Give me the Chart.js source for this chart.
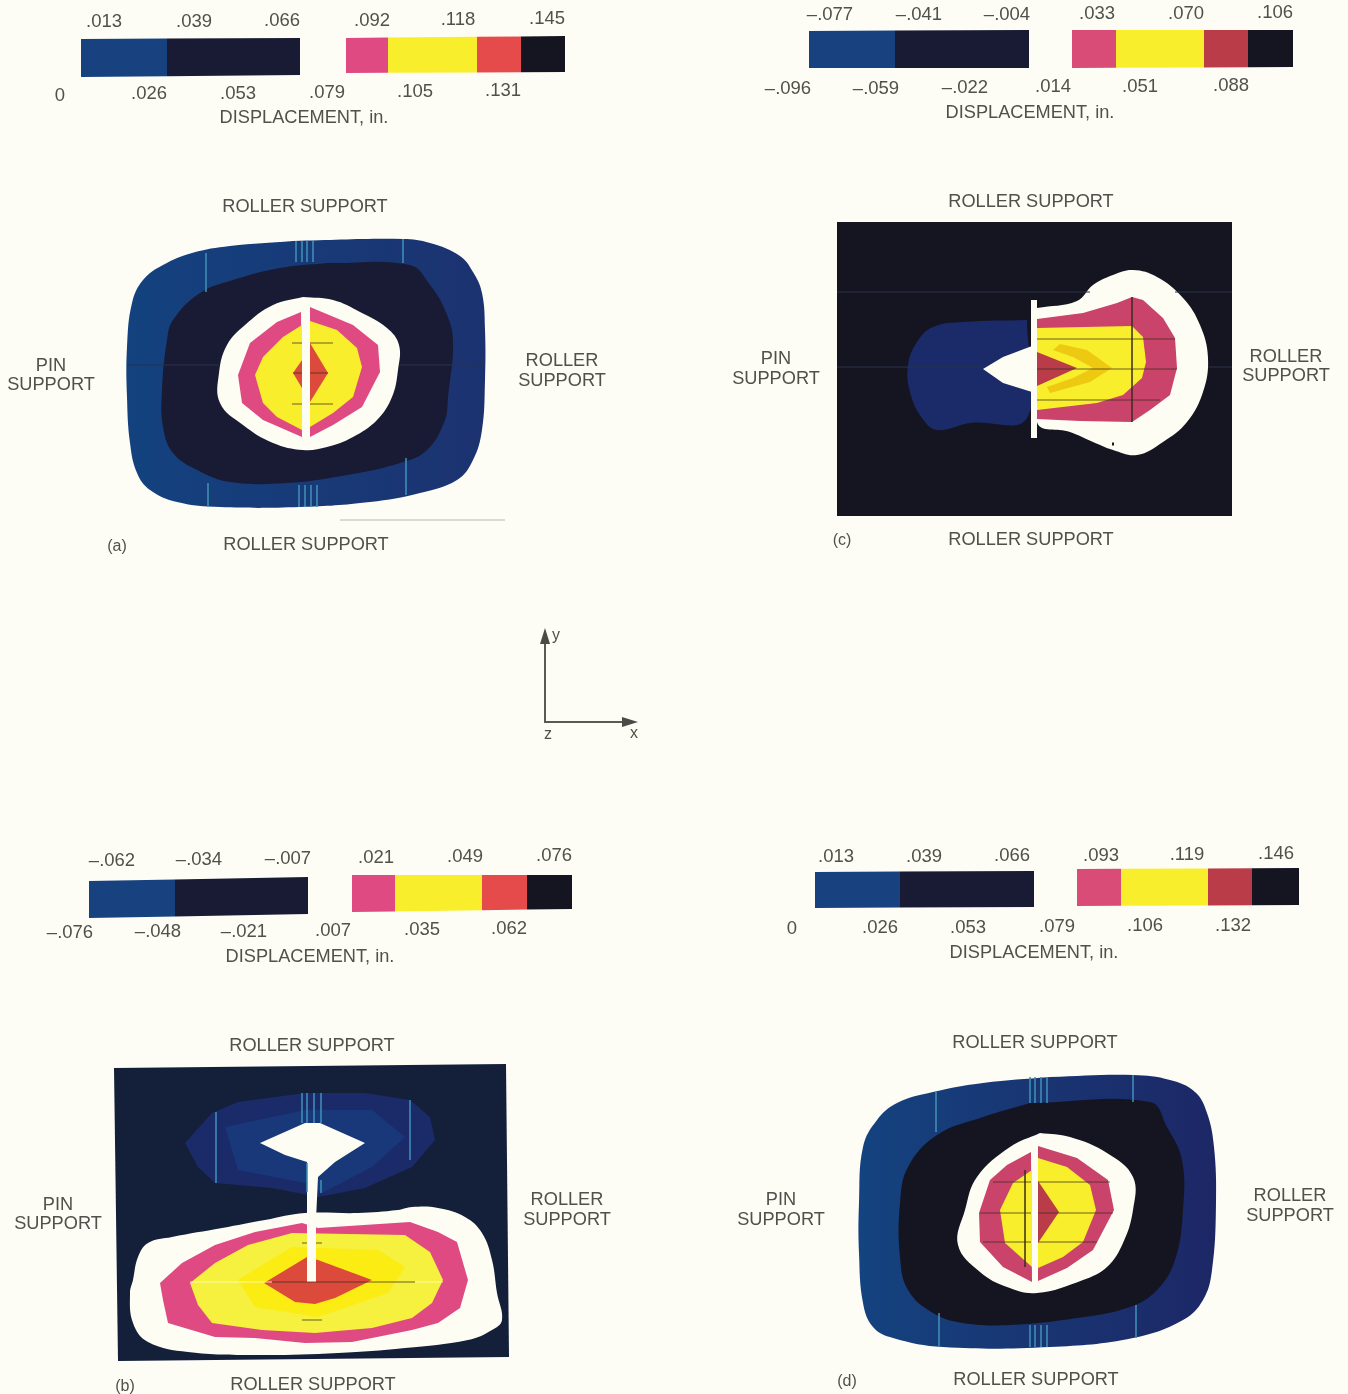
<!DOCTYPE html>
<html>
<head>
<meta charset="utf-8">
<title>Displacement contours</title>
<script src="https://cdn.jsdelivr.net/npm/chart.js@4"></script>
<style>
  html, body { margin: 0; padding: 0; background: #fdfdf6; overflow: hidden; }
  canvas { display: block; filter: blur(0.5px); }
</style>
</head>
<body>
<canvas id="contourChart" width="1348" height="1394"></canvas>
<script>
// panel (a) contours
const aOuter = [[293,241],[403,239],[430,243],[460,256],[473,272],[482,293],[485,330],[485,380],[482,430],[473,460],[457,480],[420,493],[370,502],[300,507],[220,507],[177,502],[150,490],[137,473],[130,443],[127,397],[127,347],[132,303],[143,280],[163,265],[192,253],[230,246]];
const aDark = [[327,263],[410,265],[430,285],[445,310],[453,340],[448,397],[445,420],[427,450],[400,463],[347,475],[287,483],[230,482],[197,470],[173,453],[163,427],[162,390],[167,340],[173,320],[200,293],[233,280],[280,268]];
const aWhite = [[303,297],[333,300],[360,312],[387,328],[399,345],[398,370],[392,397],[377,420],[353,437],[327,447],[303,450],[273,443],[243,425],[220,403],[219,373],[227,345],[245,325],[273,305]];
const aPinkL = [[301,312],[277,322],[250,343],[238,375],[242,403],[263,420],[302,437]];
const aYellowL = [[302,325],[283,337],[263,357],[255,375],[263,403],[277,417],[302,430]];
const aPinkR = [[310,307],[353,325],[378,345],[380,372],[362,407],[333,425],[310,437]];
const aYellowR = [[310,321],[337,330],[357,348],[362,367],[353,397],[333,413],[310,427]];
const aRedL = [[302,360],[293,373],[302,388]];
const aRedR = [[310,343],[328,373],[310,402]];

// panel (c)
const cField = [[837,222],[1232,222],[1232,516],[837,516]];
const cBlue = [[1027,320],[963,322],[933,327],[917,342],[908,365],[910,392],[922,418],[937,430],[970,423],[1027,418]];
const cWhite = [[1037,308],[1077,301],[1093,285],[1113,275],[1133,270],[1157,277],[1183,298],[1200,325],[1208,358],[1203,392],[1187,422],[1163,442],[1137,455],[1113,450],[1093,442],[1070,432],[1037,422]];
const cTip = [[1032,346],[1003,357],[983,369],[1003,383],[1032,392]];
const cSlit = [[1031,300],[1037,300],[1037,438],[1031,438]];
const cPink = [[1037,319],[1083,313],[1117,303],[1132,297],[1143,300],[1163,318],[1175,338],[1177,368],[1170,395],[1150,410],[1132,422],[1080,421],[1037,419]];
const cYellow = [[1037,328],[1132,326],[1143,337],[1146,362],[1142,378],[1123,395],[1097,403],[1037,410]];
const cAmber = [[1060,344],[1087,350],[1112,368],[1090,382],[1050,393],[1047,387],[1073,378],[1093,368],[1073,357],[1053,350]];
const cRed = [[1037,352],[1077,368],[1037,386]];

// panel (b)
const bField = [[114,1068],[506,1064],[509,1357],[118,1361]];
const bBlue = [[185,1143],[212,1113],[238,1102],[305,1093],[365,1093],[410,1100],[430,1117],[435,1140],[412,1167],[365,1188],[318,1197],[272,1188],[215,1183],[198,1167]];
const bBlueIn = [[225,1127],[305,1110],[372,1110],[405,1137],[372,1167],[322,1193],[305,1183],[238,1170]];
const bDiamond = [[260,1143],[305,1123],[320,1123],[365,1143],[335,1162],[318,1177],[316,1220],[307,1220],[307,1162],[285,1155]];
const bSlit = [[307,1170],[316,1170],[316,1282],[307,1282]];
const bWhite = [[133,1280],[138,1257],[148,1243],[172,1237],[222,1228],[265,1220],[305,1213],[358,1213],[398,1210],[412,1207],[438,1208],[465,1217],[482,1233],[492,1260],[497,1293],[502,1320],[492,1330],[468,1340],[405,1348],[338,1353],[255,1355],[188,1352],[148,1342],[133,1323],[130,1293]];
const bPink = [[160,1283],[182,1263],[215,1245],[255,1232],[302,1223],[318,1228],[410,1222],[438,1232],[457,1242],[468,1280],[460,1308],[438,1323],[412,1330],[352,1342],[305,1343],[255,1338],[215,1337],[168,1323],[163,1300]];
const bYellow = [[190,1283],[215,1263],[248,1245],[292,1233],[405,1235],[430,1252],[443,1280],[432,1303],[412,1318],[372,1328],[315,1333],[262,1330],[212,1323],[198,1305]];
const bYellowIn = [[238,1280],[292,1247],[378,1250],[405,1267],[388,1293],[318,1317],[255,1307]];
const bRed = [[264,1283],[307,1257],[318,1260],[372,1280],[335,1298],[315,1304],[295,1302]];

// panel (d)
const dOuter = [[1050,1077],[1133,1075],[1170,1080],[1195,1092],[1207,1113],[1214,1147],[1216,1203],[1212,1270],[1203,1300],[1183,1320],[1133,1338],[1050,1347],[943,1347],[893,1338],[873,1327],[863,1303],[859,1253],[859,1203],[863,1147],[877,1120],[897,1103],[933,1092],[983,1083]];
const dDark = [[1030,1103],[1150,1102],[1167,1127],[1182,1160],[1183,1210],[1175,1260],[1157,1290],[1130,1307],[1077,1318],[1010,1325],[963,1323],[933,1313],[908,1290],[900,1257],[900,1203],[908,1167],[937,1135],[983,1117]];
const dWhite = [[1040,1133],[1070,1137],[1107,1153],[1133,1177],[1133,1210],[1123,1243],[1107,1267],[1083,1280],[1037,1293],[1007,1287],[980,1272],[958,1245],[965,1210],[977,1177],[1010,1147]];
const dPinkL = [[1031,1152],[1007,1165],[990,1180],[979,1213],[980,1242],[1003,1267],[1032,1282]];
const dYellowL = [[1032,1170],[1013,1183],[1000,1210],[1005,1243],[1032,1267]];
const dPinkR = [[1038,1146],[1077,1158],[1108,1180],[1114,1210],[1093,1250],[1067,1268],[1038,1281]];
const dYellowR = [[1038,1158],[1067,1167],[1090,1185],[1096,1210],[1083,1242],[1063,1257],[1038,1268]];
const dRedR = [[1038,1181],[1059,1212],[1038,1243]];

// colour key edges, then top and bottom of each bar at its two ends
const keyALeft = [81,167,300], keyARight = [346,388,477,521,565];
const keyCLeft = [809,895,1029], keyCRight = [1072,1116,1204,1248,1293];
const keyBLeft = [89,175,308], keyBRight = [352,395,482,527,572];
const keyDLeft = [815,900,1034], keyDRight = [1077,1121,1208,1252,1299];
const keyAY = [[39,77],[38,75],[38,73],[36,72]];
const keyCY = [[31,68],[30,68],[30,68],[30,67]];
const keyBY = [[881,918],[877,914],[875,912],[875,909]];
const keyDY = [[872,908],[871,907],[869,906],[868,905]];

// thin mesh lines left in the plots, [x1,y1,x2,y2]
const meshCyan = [
  [206,253,206,292],[296,241,296,262],[302,241,302,262],[307,241,307,262],[313,241,313,262],[403,239,403,263],
  [208,483,208,507],[299,485,299,507],[305,485,305,507],[311,485,311,507],[317,485,317,507],[406,458,406,495],
  [216,1112,216,1183],[302,1093,302,1123],[307,1093,307,1123],[314,1093,314,1123],[321,1093,321,1123],[410,1100,410,1160],
  [307,1163,307,1192],[321,1180,321,1193],
  [936,1092,936,1132],[1030,1077,1030,1103],[1035,1077,1035,1103],[1041,1077,1041,1103],[1047,1077,1047,1103],[1133,1075,1133,1102],
  [939,1313,939,1346],[1030,1325,1030,1347],[1035,1325,1035,1347],[1041,1325,1041,1347],[1047,1325,1047,1347],[1136,1305,1136,1338]
];
const meshDark = [
  [292,343,302,343],[310,343,333,343],[293,373,302,373],[310,373,328,373],[292,404,302,404],[310,404,333,404],
  [1037,339,1175,339],[1037,369,1177,369],[1037,400,1160,400],[1132,297,1132,422],
  [272,1282,415,1282],[302,1243,307,1243],[316,1243,322,1243],[302,1320,322,1320],
  [993,1182,1031,1182],[1038,1182,1110,1182],[980,1213,1031,1213],[1038,1213,1113,1213],[983,1242,1031,1242],[1038,1242,1097,1242],[1025,1170,1025,1267]
];
const meshFaint = [[127,365,219,365],[399,365,485,365],[837,292,1090,292],[1175,292,1232,292],[837,367,983,367],[1208,367,1232,367]];
const meshPale = [[190,1282,272,1282],[415,1282,443,1282]];
const scanMark = [[340,520,505,520]];
const speck = [[1112,444,1114,444]];

// text, [string, x, y]
const tickLabels = [
  [".013",104,21],[".039",194,21],[".066",282,20],[".092",372,20],[".118",458,19],[".145",547,18],
  ["0",60,95],[".026",149,93],[".053",238,93],[".079",327,92],[".105",415,91],[".131",503,90],
  ["\u2013.077",830,14],["\u2013.041",919,14],["\u2013.004",1007,14],[".033",1097,13],[".070",1186,13],[".106",1275,12],
  ["\u2013.096",788,88],["\u2013.059",876,88],["\u2013.022",965,87],[".014",1053,86],[".051",1140,86],[".088",1231,85],
  ["\u2013.062",112,860],["\u2013.034",199,859],["\u2013.007",288,858],[".021",376,857],[".049",465,856],[".076",554,855],
  ["\u2013.076",70,932],["\u2013.048",158,931],["\u2013.021",244,931],[".007",333,930],[".035",422,929],[".062",509,928],
  [".013",836,856],[".039",924,856],[".066",1012,855],[".093",1101,855],[".119",1187,854],[".146",1276,853],
  ["0",792,928],[".026",880,927],[".053",968,927],[".079",1057,926],[".106",1145,925],[".132",1233,925]
];
const captionLabels = [
  ["DISPLACEMENT, in.",304,117],["DISPLACEMENT, in.",1030,112],["DISPLACEMENT, in.",310,956],["DISPLACEMENT, in.",1034,952],
  ["ROLLER SUPPORT",305,206],["ROLLER SUPPORT",306,544],["ROLLER SUPPORT",1031,201],["ROLLER SUPPORT",1031,539],
  ["ROLLER SUPPORT",312,1045],["ROLLER SUPPORT",313,1384],["ROLLER SUPPORT",1035,1042],["ROLLER SUPPORT",1036,1379],
  ["PIN",51,365],["SUPPORT",51,384],["ROLLER",562,360],["SUPPORT",562,380],
  ["PIN",776,358],["SUPPORT",776,378],["ROLLER",1286,356],["SUPPORT",1286,375],
  ["PIN",58,1204],["SUPPORT",58,1223],["ROLLER",567,1199],["SUPPORT",567,1219],
  ["PIN",781,1199],["SUPPORT",781,1219],["ROLLER",1290,1195],["SUPPORT",1290,1215]
];
const panelLabels = [["(a)",117,546],["(c)",842,540],["(b)",125,1386],["(d)",847,1381]];
const axisLabels = [["y",556,635],["z",548,734],["x",634,733]];

// little xyz triad
const triadLine = [[545,640],[545,722],[630,722]];
const triadUp = [[545,628],[540,644],[550,644]];
const triadRight = [[638,722],[622,717],[622,727]];

const colors = {
  blue: "#17427f",
  navy: "#1b2a68",
  dark: "#181b33",
  black: "#151522",
  white: "#fdfdf4",
  pink: "#df4a82",
  rose: "#c9436a",
  yellow: "#f8ee2c",
  amber: "#edc912",
  red: "#dc4a3c",
  brick: "#b93c48",
  cyan: "#3f8fb5",
};

const canvas = document.getElementById("contourChart");
const datasets = [];

function sideFade(x1, x2, from, to) {
  const g = canvas.getContext("2d").createLinearGradient(x1, 0, x2, 0);
  g.addColorStop(0, from);
  g.addColorStop(1, to);
  return g;
}

function shape(points, color, smooth) {
  datasets.push({
    data: points.concat([points[0]]).map((p) => ({ x: p[0], y: p[1] })),
    showLine: true,
    fill: "shape",
    backgroundColor: color,
    borderColor: color,
    borderWidth: 0,
    pointRadius: 0,
    tension: smooth ? 0.4 : 0,
  });
}

function strokes(list, color, width) {
  list.forEach((s) => {
    datasets.push({
      data: [{ x: s[0], y: s[1] }, { x: s[2], y: s[3] }],
      showLine: true,
      fill: false,
      borderColor: color,
      borderWidth: width,
      pointRadius: 0,
    });
  });
}

function key(edges, ys, keyColors) {
  // ys gives top/bottom at each end of the whole bar
  const x0 = edges[0];
  const span = ys.span;
  for (let i = 0; i < edges.length - 1; i++) {
    const t1 = (edges[i] - x0) / span;
    const t2 = (edges[i + 1] - x0) / span;
    const top = (t) => ys.a[0] + (ys.b[0] - ys.a[0]) * t;
    const bot = (t) => ys.a[1] + (ys.b[1] - ys.a[1]) * t;
    shape([[edges[i], top(t1)], [edges[i + 1], top(t2)], [edges[i + 1], bot(t2)], [edges[i], bot(t1)]], keyColors[i]);
  }
}

function keyPair(left, right, y, warm) {
  key(left, { a: y[0], b: y[1], span: left[left.length - 1] - left[0] }, [colors.blue, colors.dark]);
  key(right, { a: y[2], b: y[3], span: right[right.length - 1] - right[0] }, warm);
}

keyPair(keyALeft, keyARight, keyAY, [colors.pink, colors.yellow, "#e64b4c", colors.black]);
keyPair(keyCLeft, keyCRight, keyCY, ["#d94c78", colors.yellow, colors.brick, colors.black]);
keyPair(keyBLeft, keyBRight, keyBY, [colors.pink, colors.yellow, "#e64b4c", colors.black]);
keyPair(keyDLeft, keyDRight, keyDY, ["#d94c78", colors.yellow, colors.brick, colors.black]);

// (a)
shape(aOuter, sideFade(127, 485, "#13427f", "#1c3270"), true);
shape(aDark, colors.dark, true);
shape(aWhite, colors.white, true);
shape(aPinkL, colors.pink);
shape(aYellowL, colors.yellow);
shape(aPinkR, colors.pink);
shape(aYellowR, colors.yellow);
shape(aRedL, colors.red);
shape(aRedR, colors.red);

// (c)
shape(cField, colors.black);
shape(cBlue, colors.navy, true);
shape(cWhite, colors.white, true);
shape(cTip, colors.white);
shape(cSlit, colors.white);
shape(cPink, colors.rose);
shape(cYellow, colors.yellow);
shape(cAmber, colors.amber);
shape(cRed, colors.brick);

// (b)
shape(bField, "#14203a");
shape(bBlue, colors.navy);
shape(bBlueIn, "#18387a");
shape(bDiamond, colors.white);
shape(bWhite, colors.white, true);
shape(bPink, colors.pink);
shape(bYellow, "#f6f03e");
shape(bYellowIn, "#fbec14");
shape(bRed, colors.red);
shape(bSlit, colors.white);

// (d)
shape(dOuter, sideFade(859, 1216, "#14437f", "#1d2766"), true);
shape(dDark, colors.black, true);
shape(dWhite, colors.white, true);
shape(dPinkL, colors.rose);
shape(dYellowL, colors.yellow);
shape(dPinkR, colors.rose);
shape(dYellowR, colors.yellow);
shape(dRedR, colors.brick);

strokes(meshCyan, colors.cyan, 0.8);
strokes(meshDark, "rgba(60,45,30,0.75)", 1);
strokes(meshFaint, "#283248", 1);
strokes(meshPale, "rgba(255,255,190,0.8)", 1);
strokes(scanMark, "#b8b8b0", 1);
strokes(speck, "#1a1a1a", 3);

// triad
datasets.push({
  data: triadLine.map((p) => ({ x: p[0], y: p[1] })),
  showLine: true,
  fill: false,
  borderColor: "#5a5a55",
  borderWidth: 2,
  pointRadius: 0,
});
shape(triadUp, "#4a4a46");
shape(triadRight, "#4a4a46");

// later entries go on top
datasets.forEach((d, i) => { d.order = -i; });

const textPlugin = {
  id: "figureText",
  afterDraw(chart) {
    const { ctx, scales } = chart;
    const put = (list, font) => {
      ctx.font = font;
      list.forEach((t) => {
        ctx.fillText(t[0], scales.x.getPixelForValue(t[1]), scales.y.getPixelForValue(t[2] + 1));
      });
    };
    ctx.save();
    ctx.fillStyle = "#50504c";
    ctx.textAlign = "center";
    ctx.textBaseline = "middle";
    put(tickLabels, '18.5px "Liberation Sans"');
    put(captionLabels, '18.2px "Liberation Sans"');
    put(panelLabels, '16px "Liberation Sans"');
    put(axisLabels, '16px "Liberation Sans"');
    ctx.restore();
  },
};

new Chart(canvas, {
  type: "scatter",
  data: { datasets: datasets },
  plugins: [textPlugin],
  options: {
    responsive: false,
    animation: false,
    events: [],
    layout: { padding: 0 },
    plugins: { legend: { display: false }, tooltip: { enabled: false } },
    scales: {
      x: { type: "linear", display: false, min: 0, max: 1348 },
      y: { type: "linear", display: false, min: 0, max: 1394, reverse: true },
    },
  },
});
</script>
</body>
</html>
